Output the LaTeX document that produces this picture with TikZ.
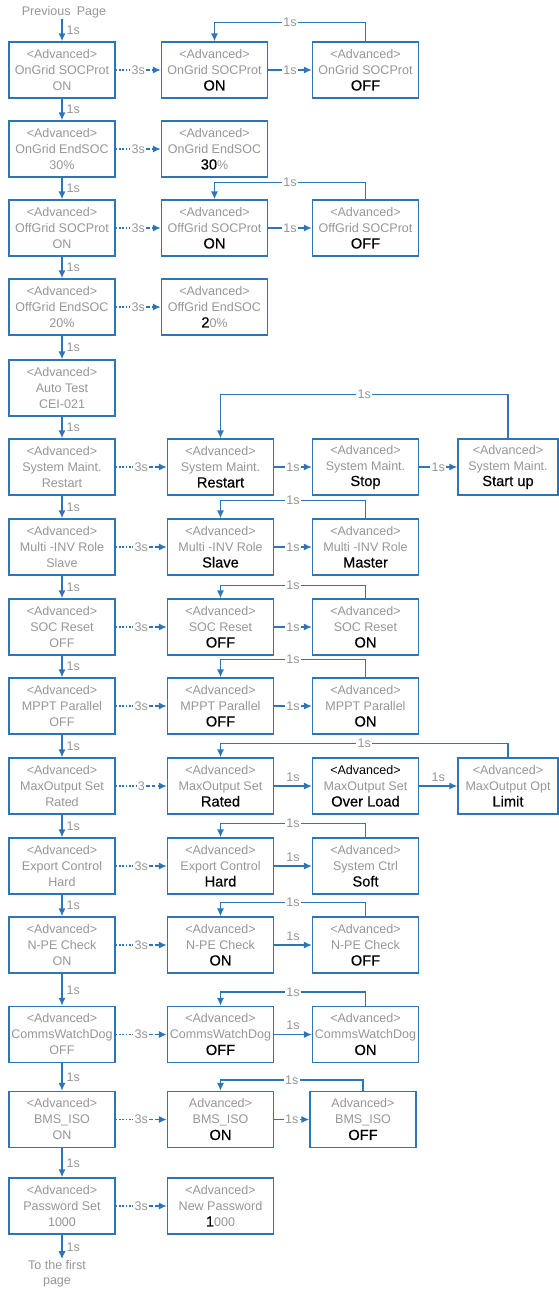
\documentclass[tikz,border=0pt]{standalone}
\usepackage{fontspec}
\setmainfont{Liberation Sans}
\newfontface\valfont{Liberation Sans}[FakeBold=0.5]
\usetikzlibrary{arrows.meta}
\definecolor{menublue}{RGB}{46,117,182}
\definecolor{menugray}{RGB}{150,150,150}
% value that is being edited: black, heavier and a little larger
\newcommand\val[1]{{\color{black}\valfont\fontsize{11}{12}\selectfont #1}}
\tikzset{
  menu/.style={draw=menublue, line width=1.1pt, minimum width=79.5pt, minimum height=42pt,
    inner sep=1pt, align=center, text=menugray, font=\fontsize{9.4}{12}\selectfont},
  narrow/.style={minimum width=75pt},
  flow/.style={draw=menublue, line width=1.1pt, -{Latex[length=6pt,width=5.5pt]}},
  hold/.style={draw=menublue, line width=1.1pt, dash pattern=on 1.2pt off 1.3pt},
  holdtip/.style={hold, dash pattern=on 2.6pt off 1.6pt, -{Latex[length=6pt,width=5.5pt]}},
  tag/.style={text=menugray, font=\fontsize{9.4}{11}\selectfont, inner sep=1pt},
  ontag/.style={tag, fill=white},
}

\begin{document}
\begin{tikzpicture}[x=0.75pt, y=-0.75pt]
\useasboundingbox (0,0) rectangle (559,1290);

% main menu column
\node[tag] (prev) at (64,12) {Previous\enspace Page};
\node[menu] (gprot)    at (62,70)     {<Advanced>\\OnGrid SOCProt\\ON};
\node[menu] (gend)     at (62,149)    {<Advanced>\\OnGrid EndSOC\\30\%};
\node[menu] (oprot)    at (62,228)    {<Advanced>\\OffGrid SOCProt\\ON};
\node[menu] (oend)     at (62,307)    {<Advanced>\\OffGrid EndSOC\\20\%};
\node[menu] (autotest) at (62,388)    {<Advanced>\\Auto Test\\CEI-021};
\node[menu] (maint)    at (62,467)    {<Advanced>\\System Maint.\\Restart};
\node[menu] (role)     at (62,547)    {<Advanced>\\Multi -INV Role\\Slave};
\node[menu] (soc)      at (62,627)    {<Advanced>\\SOC Reset\\OFF};
\node[menu] (mppt)     at (62,706)    {<Advanced>\\MPPT Parallel\\OFF};
\node[menu] (maxout)   at (62,786)    {<Advanced>\\MaxOutput Set\\Rated};
\node[menu] (export)   at (62,866)    {<Advanced>\\Export Control\\Hard};
\node[menu] (npe)      at (62,945)    {<Advanced>\\N-PE Check\\ON};
\node[menu] (wdog)     at (62,1034.5) {<Advanced>\\CommsWatchDog\\OFF};
\node[menu] (bms)      at (62,1119.5) {<Advanced>\\BMS\_ISO\\ON};
\node[menu] (pwd)      at (62,1206)   {<Advanced>\\Password Set\\1000};
\node[tag, align=center] (first) at (57,1274) {To the first\\page};

% setting screens
\node[menu] (gprotA)  at (214.5,70)    {<Advanced>\\OnGrid SOCProt\\\val{ON}};
\node[menu] (gprotB)  at (365.5,70)    {<Advanced>\\OnGrid SOCProt\\\val{OFF}};
\node[menu] (gendA)   at (214.5,149)   {<Advanced>\\OnGrid EndSOC\\\val{30}\%};
\node[menu] (oprotA)  at (214.5,228)   {<Advanced>\\OffGrid SOCProt\\\val{ON}};
\node[menu] (oprotB)  at (365.5,228)   {<Advanced>\\OffGrid SOCProt\\\val{OFF}};
\node[menu] (oendA)   at (214.5,307)   {<Advanced>\\OffGrid EndSOC\\\val{2}0\%};
\node[menu] (maintA)  at (220.5,467)   {<Advanced>\\System Maint.\\\val{Restart}};
\node[menu] (maintB)  at (365.5,467)   {<Advanced>\\System Maint.\\\val{Stop}};
\node[menu, narrow] (maintC) at (508,467) {<Advanced>\\System Maint.\\\val{Start up}};
\node[menu] (roleA)   at (220.5,547)   {<Advanced>\\Multi -INV Role\\\val{Slave}};
\node[menu] (roleB)   at (365.5,547)   {<Advanced>\\Multi -INV Role\\\val{Master}};
\node[menu] (socA)    at (220.5,627)   {<Advanced>\\SOC Reset\\\val{OFF}};
\node[menu] (socB)    at (365.5,627)   {<Advanced>\\SOC Reset\\\val{ON}};
\node[menu] (mpptA)   at (220.5,706)   {<Advanced>\\MPPT Parallel\\\val{OFF}};
\node[menu] (mpptB)   at (365.5,706)   {<Advanced>\\MPPT Parallel\\\val{ON}};
\node[menu] (maxoutA) at (220.5,786)   {<Advanced>\\MaxOutput Set\\\val{Rated}};
\node[menu] (maxoutB) at (365.5,786)   {\textcolor{black}{<Advanced>}\\MaxOutput Set\\\val{Over Load}};
\node[menu, narrow] (maxoutC) at (508,786) {<Advanced>\\MaxOutput Opt\\\val{Limit}};
\node[menu] (exportA) at (220.5,866)   {<Advanced>\\Export Control\\\val{Hard}};
\node[menu] (exportB) at (365.5,866)   {<Advanced>\\System Ctrl\\\val{Soft}};
\node[menu] (npeA)    at (220.5,945)   {<Advanced>\\N-PE Check\\\val{ON}};
\node[menu] (npeB)    at (365.5,945)   {<Advanced>\\N-PE Check\\\val{OFF}};
\node[menu] (wdogA)   at (220.5,1034.5) {<Advanced>\\CommsWatchDog\\\val{OFF}};
\node[menu] (wdogB)   at (365.5,1034.5) {<Advanced>\\CommsWatchDog\\\val{ON}};
\node[menu] (bmsA)    at (220.5,1119.5) {Advanced>\\BMS\_ISO\\\val{ON}};
\node[menu] (bmsB)    at (363,1119.5)  {Advanced>\\BMS\_ISO\\\val{OFF}};
\node[menu] (pwdA)    at (220.5,1206)  {<Advanced>\\New Password\\\val{1}000};

% 1s steps down the main column
\draw[flow] (prev.south -| gprot.north) -- node[tag, right=2pt] {1s} (gprot.north);
\foreach \a/\b in {gprot/gend, gend/oprot, oprot/oend, oend/autotest, autotest/maint,
    maint/role, role/soc, soc/mppt, mppt/maxout, maxout/export, export/npe, npe/wdog,
    wdog/bms, bms/pwd}
  \draw[flow] (\a) -- node[tag, right=2pt] {1s} (\b);
\draw[flow] (pwd.south) -- node[tag, right=2pt] {1s} (pwd.south |- first.north);

% hold 3s to enter a setting
\foreach \a/\b/\t in {gprot/gprotA/3s, gend/gendA/3s, oprot/oprotA/3s, oend/oendA/3s,
    maint/maintA/3s, role/roleA/3s, soc/socA/3s, mppt/mpptA/3s, maxout/maxoutA/3,
    export/exportA/3s, npe/npeA/3s, wdog/wdogA/3s, bms/bmsA/3s, pwd/pwdA/3s} {
  \path (\a.east) -- node[tag] (h) {\t} (\b.west);
  \draw[hold] (\a.east) -- (h.west);
  \draw[holdtip] (h.east) -- (\b.west);
}

% 1s between options
\foreach \a/\b in {gprotA/gprotB, oprotA/oprotB, maintA/maintB, maintB/maintC,
    roleA/roleB, socA/socB, mpptA/mpptB, bmsA/bmsB}
  \draw[flow] (\a) -- node[ontag] {1s} (\b);
\foreach \a/\b in {maxoutA/maxoutB, maxoutB/maxoutC, exportA/exportB, npeA/npeB, wdogA/wdogB}
  \draw[flow] (\a) -- node[tag, above=2pt] {1s} (\b);

% back to the first option
\foreach \a/\b/\h in {gprotB/gprotA/19, oprotB/oprotA/17, maintC/maintA/44, roleB/roleA/18,
    socB/socA/13, mpptB/mpptA/18, maxoutC/maxoutA/14, exportB/exportA/14, npeB/npeA/14,
    wdogB/wdogA/14, bmsB/bmsA/11}
  \draw[flow] (\a.north) -- ++(0,-\h) -| node[ontag, pos=0.25] {1s} (\b.north);
\end{tikzpicture}
\end{document}
